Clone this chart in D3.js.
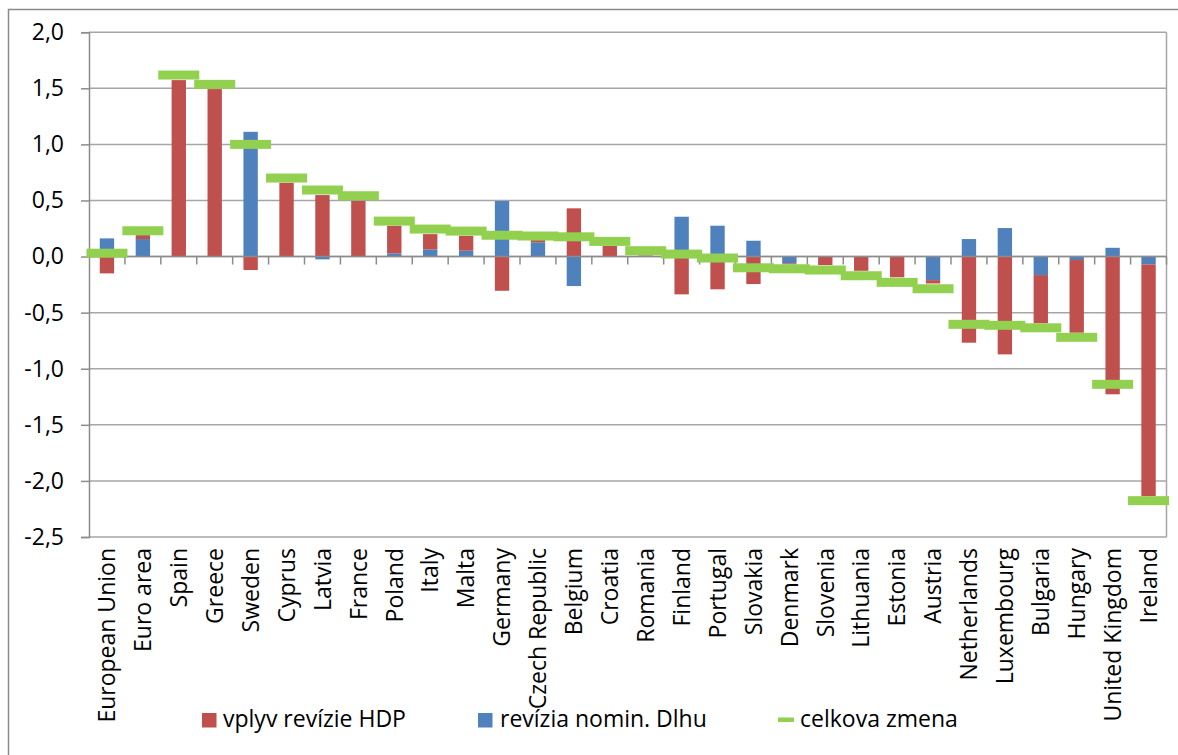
<!DOCTYPE html>
<html>
<head>
<meta charset="utf-8">
<script src="https://cdn.jsdelivr.net/npm/d3@7/dist/d3.min.js"></script>
<style>
  html, body { margin: 0; padding: 0; background: #fff; }
  svg { display: block; }
  text { font-family: "Open Sans", "Noto Sans", sans-serif; fill: #000; }
</style>
</head>
<body>
<svg id="chart" width="1178" height="755"></svg>
<script>
const categories = ["European Union","Euro area","Spain","Greece","Sweden","Cyprus","Latvia","France","Poland","Italy","Malta","Germany","Czech Republic","Belgium","Croatia","Romania","Finland","Portugal","Slovakia","Denmark","Slovenia","Lithuania","Estonia","Austria","Netherlands","Luxembourg","Bulgaria","Hungary","United Kingdom","Ireland"];
// vplyv revízie HDP (red)
const gdpRevision = [-0.15,0.035,1.573,1.493,-0.12,0.658,0.548,0.497,0.247,0.136,0.133,-0.305,0.02,0.43,0.094,0.01,-0.337,-0.292,-0.245,-0.01,-0.076,-0.127,-0.185,-0.03,-0.768,-0.872,-0.43,-0.648,-1.228,-2.065];
// revízia nomin. Dlhu (blue)
const debtRevision = [0.162,0.156,0.0,0.0,1.112,0.0,-0.025,0.0,0.028,0.064,0.052,0.495,0.127,-0.263,0.0,0.0,0.355,0.275,0.141,-0.06,0.0,0.0,0.0,-0.21,0.156,0.254,-0.165,-0.031,0.078,-0.07];
// celkova zmena (green marker)
const totalChange = [0.03,0.23,1.618,1.535,1.0,0.70,0.593,0.542,0.316,0.245,0.227,0.19,0.183,0.176,0.135,0.052,0.022,-0.013,-0.10,-0.109,-0.12,-0.171,-0.23,-0.287,-0.604,-0.613,-0.635,-0.72,-1.139,-2.176];
const yTicks = [2.0,1.5,1.0,0.5,0.0,-0.5,-1.0,-1.5,-2.0,-2.5];
const seriesNames = ["vplyv revízie HDP","revízia nomin. Dlhu","celkova zmena"];

(function () {
const colors = { gdp: "#c0504d", debt: "#4f81bd", total: "#92d050" };
const svg = d3.select("#chart");

// outer chart frame
svg.append("rect").attr("x", 8.5).attr("y", 9.5).attr("width", 1180).attr("height", 760)
  .attr("fill", "none").attr("stroke", "#8a8a8a").attr("stroke-width", 1.5);

const pLeft = 89, pRight = 1166.5, pTop = 32.2, pBottom = 537;
const y = d3.scaleLinear().domain([-2.5, 2.0]).range([pBottom, pTop]);
const x = d3.scaleBand().domain(categories).range([pLeft, pRight]).paddingInner(0.6).paddingOuter(0.3);
const step = x.step();
const fmt = v => d3.format(".1f")(v).replace(".", ",").replace("−", "-");

// gridlines
svg.append("g").selectAll("line").data(yTicks).join("line")
  .attr("x1", pLeft).attr("x2", pRight)
  .attr("y1", d => y(d)).attr("y2", d => y(d))
  .attr("stroke", "#a6a6a6").attr("stroke-width", 1.5);
svg.append("line").attr("x1", pRight).attr("x2", pRight).attr("y1", pTop).attr("y2", pBottom)
  .attr("stroke", "#a6a6a6").attr("stroke-width", 1.5);

// y axis
const yAxis = d3.axisLeft(y).tickValues(yTicks).tickSize(8).tickPadding(17).tickFormat(fmt);
const gy = svg.append("g").attr("transform", `translate(${pLeft},0)`).call(yAxis);
gy.select(".domain").attr("stroke", "#8c8c8c").attr("stroke-width", 1.5);
gy.selectAll(".tick line").attr("stroke", "#8c8c8c").attr("stroke-width", 1.5);
gy.selectAll(".tick text").style("font-size", "23px").style("font-family", '"Open Sans", sans-serif').attr("fill", "#000");

// stacked bars: blue stacked first (next to zero), then red
const rows = categories.map((c, i) => ({ cat: c, debt: debtRevision[i], gdp: gdpRevision[i] }));
const stacked = d3.stack().keys(["debt", "gdp"]).offset(d3.stackOffsetDiverging)(rows);
svg.append("g").selectAll("g").data(stacked).join("g")
  .attr("fill", d => colors[d.key])
  .selectAll("rect").data(d => d).join("rect")
  .attr("x", d => x(d.data.cat))
  .attr("width", x.bandwidth())
  .attr("y", d => y(Math.max(d[0], d[1])))
  .attr("height", d => Math.abs(y(d[0]) - y(d[1])));

// zero axis line with ticks at category boundaries
svg.append("line").attr("x1", pLeft).attr("x2", pRight).attr("y1", y(0)).attr("y2", y(0))
  .attr("stroke", "#8c8c8c").attr("stroke-width", 1.5);
const boundaries = d3.range(1, categories.length + 1).map(i => pLeft + i * step);
svg.append("g").selectAll("line").data(boundaries).join("line")
  .attr("x1", d => d).attr("x2", d => d)
  .attr("y1", y(0)).attr("y2", y(0) + 8)
  .attr("stroke", "#8c8c8c").attr("stroke-width", 1.5);

// green total markers
const mw = 41, mh = 9;
svg.append("g").selectAll("rect").data(categories).join("rect")
  .attr("x", d => x(d) + x.bandwidth() / 2 - mw / 2)
  .attr("y", (d, i) => y(totalChange[i]) - mh / 2)
  .attr("width", mw).attr("height", mh)
  .attr("fill", colors.total);

// category labels (rotated)
svg.append("g").selectAll("text").data(categories).join("text")
  .attr("transform", d => `translate(${x(d) + x.bandwidth() / 2},548) rotate(-90)`)
  .attr("text-anchor", "end")
  .attr("dy", "0.36em")
  .style("font-size", "23px")
  .text(d => d);

// legend
const lg = svg.append("g");
lg.append("rect").attr("x", 202).attr("y", 713).attr("width", 14.5).attr("height", 14.5).attr("fill", colors.gdp);
lg.append("text").attr("x", 223).attr("y", 727).style("font-size", "23px").text(seriesNames[0]);
lg.append("rect").attr("x", 478).attr("y", 713).attr("width", 14.5).attr("height", 14.5).attr("fill", colors.debt);
lg.append("text").attr("x", 500).attr("y", 727).style("font-size", "23px").text(seriesNames[1]);
lg.append("rect").attr("x", 778).attr("y", 717.5).attr("width", 16).attr("height", 4.5).attr("fill", colors.total);
lg.append("text").attr("x", 800).attr("y", 727).style("font-size", "23px").text(seriesNames[2]);
})();
</script>
</body>
</html>
